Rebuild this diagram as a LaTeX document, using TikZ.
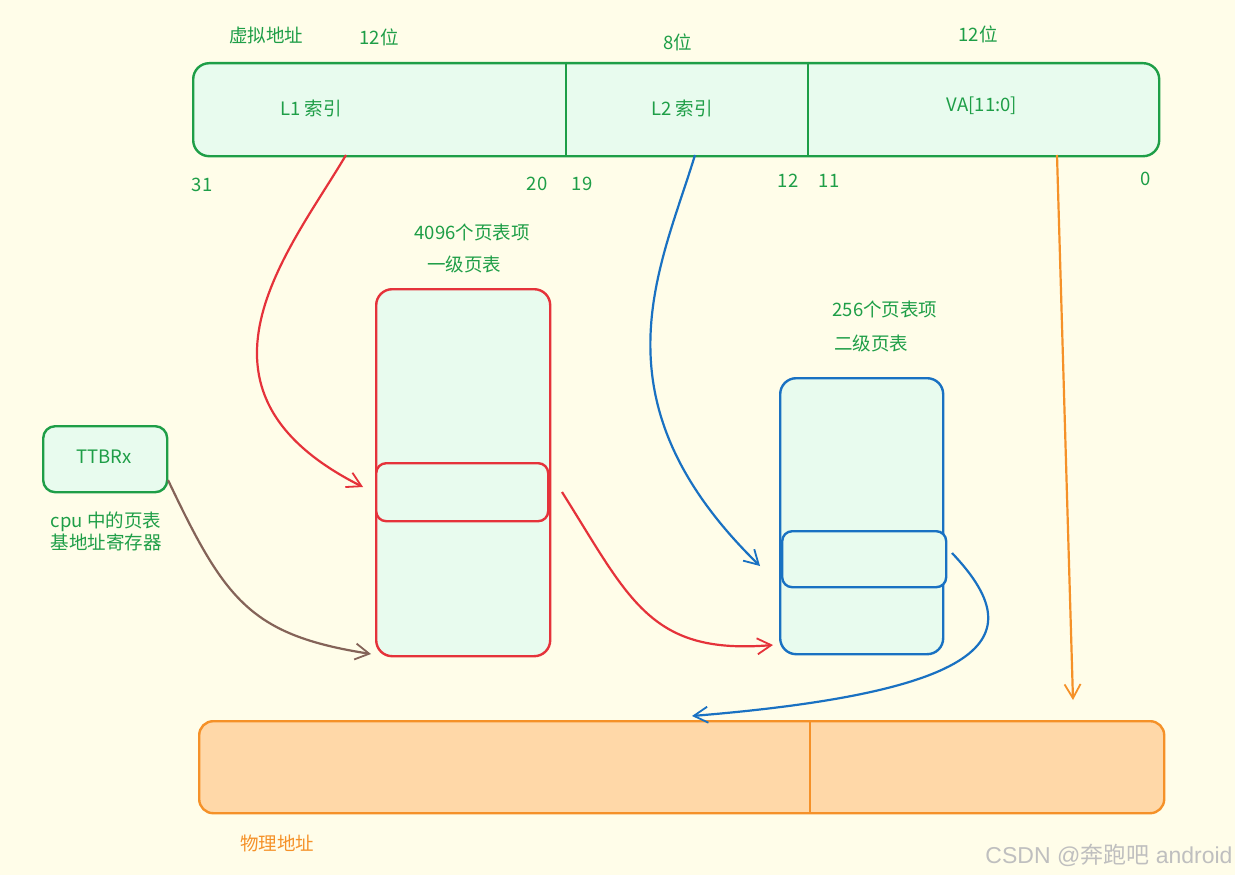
\documentclass[tikz,border=0pt]{standalone}
\usepackage{fontspec}
\setmainfont{Noto Sans CJK SC}
\newfontfamily\wmfont{Liberation Sans}
\usetikzlibrary{arrows.meta}
\definecolor{bgc}{HTML}{FFFDE9}
\definecolor{gfill}{HTML}{E8FBEE}
\definecolor{gline}{HTML}{1E9E47}
\definecolor{rline}{HTML}{E5323A}
\definecolor{bline}{HTML}{1971C2}
\definecolor{oline}{HTML}{F59128}
\definecolor{ofill}{HTML}{FFD8A8}
\definecolor{brn}{HTML}{846358}
\begin{document}
\begin{tikzpicture}[x=1pt,y=-1pt,
  lbl/.style={text=gline,font=\fontsize{18.5}{22}\selectfont,inner sep=0},
  box/.style={draw,line width=2.4pt,rounded corners=16pt,inner sep=0,anchor=north west},
  tip/.style={-{Straight Barb[length=14pt,width=16pt,line width=1.8pt]}},
  conn/.style={line width=2.2pt,tip}]
\fill[bgc] (0,0) rectangle (1235,875);
\useasboundingbox (0,0) rectangle (1235,875);
% top virtual address bar
\node[box,draw=gline,fill=gfill,minimum width=966pt,minimum height=93pt] (va) at (192,62) {};
\coordinate (d1t) at (566,62); \coordinate (d1b) at (566,155);
\coordinate (d2t) at (808,62); \coordinate (d2b) at (808,155);
\draw[gline,line width=2.4pt] (d1t) -- (d1b);
\draw[gline,line width=2.4pt] (d2t) -- (d2b);
\node[lbl] (l1) at (311,108) {L1 索引};
\node[lbl] (l2) at (682,108) {L2 索引};
\node[lbl] (va0) at (982,106) {VA[11:0]};
\node[lbl] (vatitle) at (266,35) {虚拟地址};
\node[lbl] (w1) at (379,37) {12位};
\node[lbl] (w2) at (678,42) {8位};
\node[lbl] (w3) at (978,34) {12位};
\node[lbl] (b31) at (202,185) {31};
\node[lbl] (b20) at (537,184) {20};
\node[lbl] (b19) at (582,184) {19};
\node[lbl] (b12) at (788,181) {12};
\node[lbl] (b11) at (829,181) {11};
\node[lbl] (b0) at (1146,179) {0};
% L1 table
\node[lbl] (t1a) at (472,232) {4096个页表项};
\node[lbl] (t1b) at (464,264) {一级页表};
\node[box,draw=rline,fill=gfill,minimum width=174pt,minimum height=367pt] (pt1) at (375,288) {};
\node[box,draw=rline,fill=gfill,rounded corners=10pt,minimum width=172pt,minimum height=58pt] (e1) at (375,462) {};
% L2 table
\node[lbl] (t2a) at (885,309) {256个页表项};
\node[lbl] (t2b) at (871,343) {二级页表};
\node[box,draw=bline,fill=gfill,minimum width=163pt,minimum height=276pt] (pt2) at (779,377) {};
\node[box,draw=bline,fill=gfill,rounded corners=10pt,minimum width=164pt,minimum height=56pt] (e2) at (781,530) {};
% TTBR
\node[box,draw=gline,fill=gfill,rounded corners=12pt,minimum width=124pt,minimum height=66pt] (ttbr) at (42,425) {};
\node[lbl] (ttbrt) at (104,457) {TTBRx};
\node[lbl,align=center] (cpu) at (106,531) {cpu 中的页表\\基地址寄存器};
% physical
\node[box,draw=oline,fill=ofill,rounded corners=14pt,minimum width=965pt,minimum height=92pt] (pa) at (198,720) {};
\coordinate (d3t) at (810,720); \coordinate (d3b) at (810,812);
\draw[oline,line width=2.4pt] (d3t) -- (d3b);
\node[lbl,text=oline] (patitle) at (277,843) {物理地址};
\node[text=black!25,font=\wmfont\fontsize{23}{26}\selectfont,inner sep=0] (wm) at (1109,855) {CSDN @\mbox{\rmfamily 奔跑吧} android};
% connector endpoints
\coordinate (s1) at (346,155);
\coordinate (e1in) at (363,487);
\coordinate (s2) at (695,155);
\coordinate (e2in) at (760,566);
\coordinate (s3) at (1057,155);
\coordinate (e3) at (1073,700);
\coordinate (s4) at (562,492);
\coordinate (e4) at (773,645);
\coordinate (s5) at (952,553);
\coordinate (e5) at (692,716);
\coordinate (s6) at (168,480);
\coordinate (e6) at (371,654);
\draw[conn,rline] (s1) .. controls (290,250) and (170,390) .. (e1in);
\draw[conn,bline] (s2) .. controls (660,270) and (590,400) .. (e2in);
\draw[conn,oline] (s3) -- (e3);
\draw[conn,rline] (s4) .. controls (630,600) and (650,655) .. (e4);
\draw[conn,bline] (s5) .. controls (1025,630) and (1010,690) .. (e5);
\draw[conn,brn] (s6) .. controls (225,600) and (250,635) .. (e6);
\end{tikzpicture}
\end{document}
